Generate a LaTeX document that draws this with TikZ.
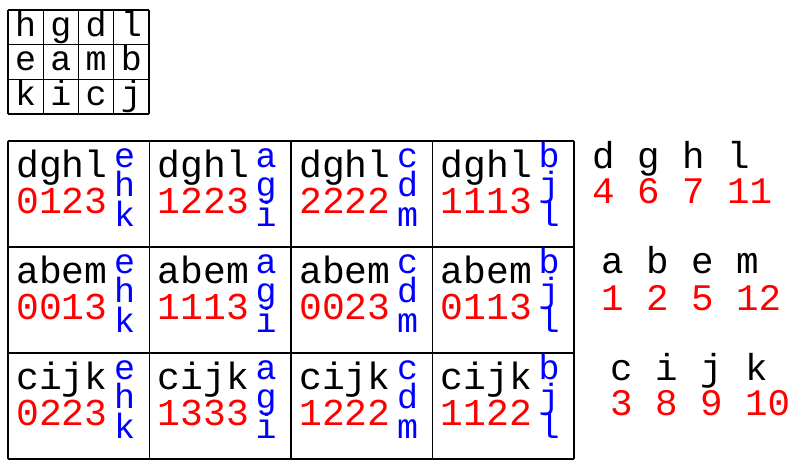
\documentclass[tikz,border=0pt]{standalone}
\usepackage{fontspec}
\setmonofont{Liberation Mono}
\begin{document}
\begin{tikzpicture}[x = 1pt, y = -1pt,
  gridline/.style = {line width = 1.3pt},
  key/.style = {inner sep = 0pt, anchor = base, font = \ttfamily\fontsize{35}{35}\selectfont},
  word/.style = {inner sep = 0pt, anchor = base west, font = \ttfamily\fontsize{38}{38}\selectfont},
  code/.style = {word, text = red},
  side/.style = {inner sep = 0pt, anchor = base west, text = blue, font = \ttfamily\fontsize{35}{35}\selectfont},
  count/.style = {inner sep = 0pt, anchor = base west, font = \ttfamily\fontsize{37.5}{37.5}\selectfont}]
\useasboundingbox (0, 0) rectangle (803, 467);
% key square
\foreach \i in {0,...,4} \draw [gridline] ({8 + 35.25*\i}, 10) -- ({8 + 35.25*\i}, 114);
\foreach \j in {0,...,3} \draw [gridline] (8, {10 + 34.67*\j}) -- (149, {10 + 34.67*\j});
\foreach \row [count = \j from 0] in {{h,g,d,l}, {e,a,m,b}, {k,i,c,j}}
  \foreach \ch [count = \i from 0] in \row
    \node [key] (k\j\i) at ({8 + 35.25*(\i + 0.5)}, {10 + 34.67*\j + 26}) {\ch};
% table
\foreach \i in {0,...,4} \draw [gridline] ({8 + 141.5*\i}, 141) -- ({8 + 141.5*\i}, 459);
\foreach \j in {0,...,3} \draw [gridline] (8, {141 + 106*\j}) -- (574, {141 + 106*\j});
\foreach \w/\ca/\cb/\cc/\cd [count = \r from 0] in {dghl/0123/1223/2222/1113, abem/0013/1113/0023/0113, cijk/0223/1333/1222/1122}
  \foreach \n [count = \c from 0] in {\ca, \cb, \cc, \cd} {
    \node [word] (w\r\c) at ({8 + 141.5*\c + 8}, {141 + 106*\r + 36}) {\w};
    \node [code] (n\r\c) at ({8 + 141.5*\c + 8}, {141 + 106*\r + 72}) {\n};
  }
\foreach \col [count = \c from 0] in {{e,h,k}, {a,g,i}, {c,d,m}, {b,j,l}}
  \foreach \ch [count = \k from 0] in \col
    \foreach \r in {0,1,2}
      \node [side] (s\r\c\k) at ({8 + 141.5*\c + 106}, {141 + 106*\r + 26 + 29.5*\k}) {\ch};
% letter numbers
\node [count] (l1) at (592, 168) {d g h l};
\node [count, text = red] (v1) at (592, 203) {4 6 7 11};
\node [count] (l2) at (601, 273) {a b e m};
\node [count, text = red] (v2) at (601, 310) {1 2 5 12};
\node [count] (l3) at (610, 380) {c i j k};
\node [count, text = red] (v3) at (610, 415) {3 8 9 10};
\end{tikzpicture}
\end{document}
